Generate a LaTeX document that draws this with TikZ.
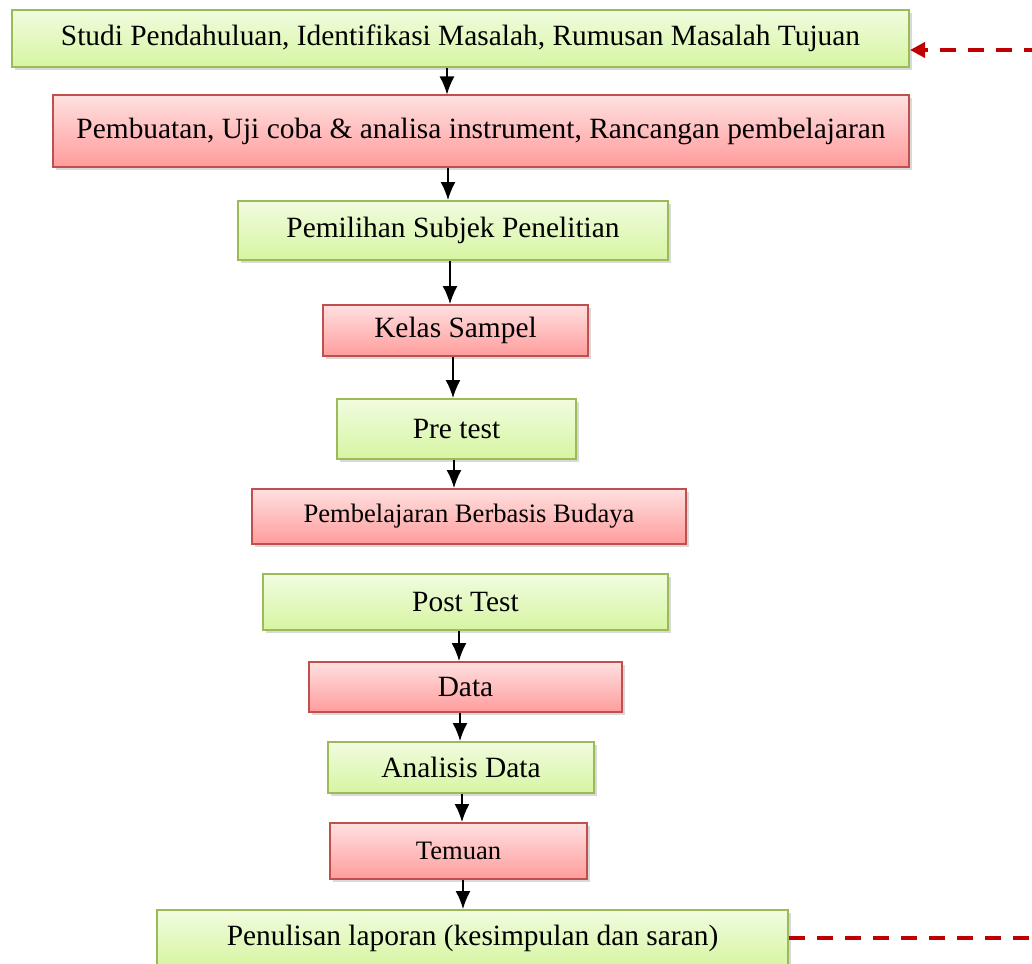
\documentclass[tikz,border=0pt]{standalone}
\usepackage{fontspec}
\setmainfont{Liberation Serif}
\usetikzlibrary{shadows, arrows.meta, calc, positioning}

\definecolor{grntop}{HTML}{F1FCDF}
\definecolor{grnbot}{HTML}{D6F5A2}
\definecolor{grnline}{HTML}{9BBB59}
\definecolor{redtop}{HTML}{FFE0E0}
\definecolor{redbot}{HTML}{FF9C9C}
\definecolor{redline}{HTML}{C0504D}
\definecolor{backred}{HTML}{C00000}

\tikzset{
  stepbox/.style={rectangle, draw, line width=1pt, inner sep=0pt,
    font=\fontsize{14.7pt}{16pt}\selectfont,
    drop shadow={opacity=0.3, shadow xshift=1.5pt, shadow yshift=-1.5pt}},
  greenbox/.style={stepbox, draw=grnline, top color=grntop, bottom color=grnbot},
  redbox/.style={stepbox, draw=redline, top color=redtop, bottom color=redbot},
  smalltext/.style={font=\fontsize{13.3pt}{14pt}\selectfont},
  loopback/.style={backred, line width=2pt, dash pattern=on 8pt off 6pt}
}

\begin{document}
\begin{tikzpicture}[x=0.5pt, y=-0.5pt, >={Latex[length=9pt,width=7.5pt]}]
\useasboundingbox (0,0) rectangle (1032,963);
\clip (0,0) rectangle (1032,963);

\node[greenbox, minimum width=448.5pt, minimum height=28.5pt] (studi) at (460.5,38.5) {Studi Pendahuluan, Identifikasi Masalah, Rumusan Masalah Tujuan};
\node[redbox, minimum width=428pt, minimum height=35.5pt] (buat) at (481,131) {Pembuatan, Uji coba \& analisa instrument, Rancangan pembelajaran};
\node[greenbox, minimum width=215pt, minimum height=29.5pt] (subjek) at (453,230.5) {Pemilihan Subjek Penelitian};
\node[redbox, minimum width=132.5pt, minimum height=25.5pt] (kelas) at (455.5,330.5) {Kelas Sampel};
\node[greenbox, minimum width=119.5pt, minimum height=30pt] (pre) at (456.5,429) {Pre test};
\node[redbox, smalltext, minimum width=217pt, minimum height=27.5pt] (budaya) at (469,516.5) {Pembelajaran Berbasis Budaya};
\node[greenbox, minimum width=202.5pt, minimum height=28pt] (post) at (465.5,602) {Post Test};
\node[redbox, minimum width=156.5pt, minimum height=25pt] (data) at (465.5,687) {Data};
\node[greenbox, minimum width=133pt, minimum height=25.5pt] (analisis) at (461,767.5) {Analisis Data};
\node[redbox, smalltext, minimum width=128.5pt, minimum height=28pt] (temuan) at (458.5,851) {Temuan};
\node[greenbox, minimum width=315.5pt, minimum height=28pt] (tulis) at (472.5,938) {Penulisan laporan (kesimpulan dan saran)};

% flow arrows
\foreach \from/\to/\x in {studi/buat/447, buat/subjek/448, subjek/kelas/450,
    kelas/pre/453, pre/budaya/454, post/data/459, data/analisis/460,
    analisis/temuan/462, temuan/tulis/463}
  \draw[->, line width=0.8pt] (\from.south -| \x,0) -- (\to.north -| \x,0);

% dashed return
\coordinate (backtop) at (1040,50);
\coordinate (backbot) at (1040,938);
\draw[loopback, -{Triangle[length=7.5pt,width=7.5pt]}] (backtop) -- (backtop -| studi.east);
\draw[loopback] (tulis.east) -- (backbot);
\end{tikzpicture}
\end{document}
